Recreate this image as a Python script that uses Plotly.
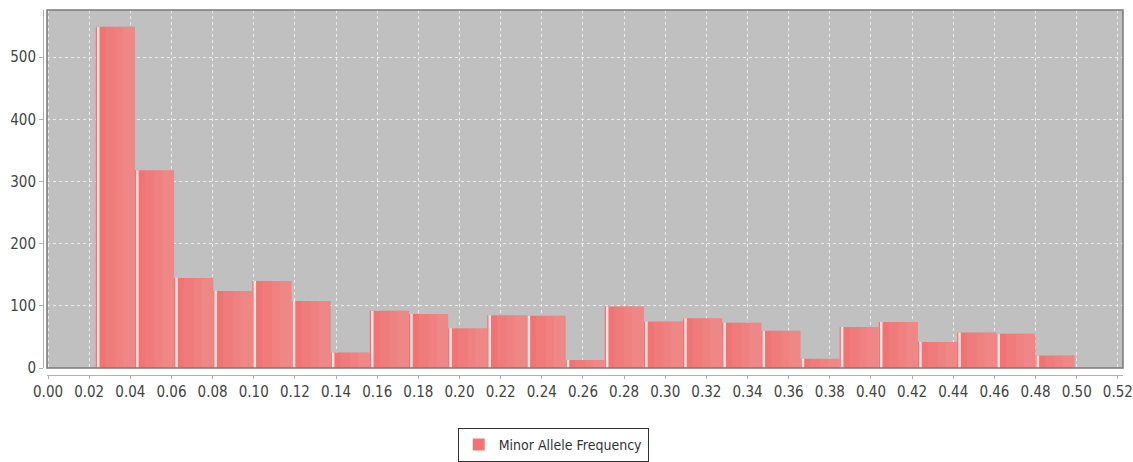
import numpy as np
import plotly.graph_objects as go

# Histogram data: minor allele frequency bins (start, width) and counts
bin_start = 0.0232
bin_width = 0.01903
counts = [549, 318, 145, 124, 140, 108, 25, 92, 87, 64, 85, 84, 13,
          99, 75, 80, 73, 60, 15, 66, 74, 42, 57, 55, 20]
series_name = "Minor Allele Frequency"

x_ticks = [round(0.02 * i, 2) for i in range(27)]
x_tick_labels = [f"{v:.2f}" for v in x_ticks]
y_ticks = [0, 100, 200, 300, 400, 500]

lefts = bin_start + bin_width * np.arange(len(counts))
centers = lefts + bin_width / 2

FONT = "DejaVu Sans Condensed, DejaVu Sans, sans-serif"

fig = go.Figure()
fig.add_trace(go.Bar(
    x=centers, y=counts, width=bin_width,
    marker=dict(color="#F07474", line=dict(width=0)),
    name=series_name, showlegend=True,
))
# soft lighter shading towards the right of each bar (gradient painter look)
for frac in (0.75, 0.5, 0.3):
    fig.add_trace(go.Bar(
        x=lefts + bin_width * (1 - frac / 2), y=counts, width=bin_width * frac,
        marker=dict(color="rgba(255,255,255,0.05)", line=dict(width=0)),
        showlegend=False, hoverinfo="skip",
    ))
# light highlight stripe at the left edge of each bar
fig.add_trace(go.Bar(
    x=lefts + 0.0012, y=counts, width=0.0012,
    marker=dict(color="#FFE2E2", line=dict(width=0)),
    showlegend=False, hoverinfo="skip",
))

fig.update_layout(
    width=1133, height=462,
    margin=dict(l=43, r=10, t=10, b=87, autoexpand=False),
    paper_bgcolor="white",
    plot_bgcolor="#C0C0C0",
    barmode="overlay",
    font=dict(family=FONT, size=15, color="#444444"),
    showlegend=True,
    legend=dict(
        orientation="h", x=0.384, xanchor="left", y=-0.145, yanchor="top",
        bgcolor="white", bordercolor="#333333", borderwidth=1,
        font=dict(family=FONT, size=14, color="#333333"),
        itemsizing="constant",
    ),
    xaxis=dict(
        domain=[4 / 1080, 1], range=[-0.0005, 0.5225],
        tickmode="array", tickvals=x_ticks, ticktext=x_tick_labels,
        showgrid=True, gridcolor="rgba(255,255,255,0.7)", griddash="dot", gridwidth=1,
        zeroline=False, showline=True, linecolor="#B0B0B0", linewidth=1,
        ticks="outside", ticklen=3, tickcolor="#B0B0B0",
        anchor="free", position=0, automargin=False,
    ),
    yaxis=dict(
        domain=[7 / 365, 1], range=[0, 576],
        tickmode="array", tickvals=y_ticks,
        showgrid=True, gridcolor="rgba(255,255,255,0.7)", griddash="dot", gridwidth=1,
        zeroline=False, showline=True, linecolor="#B0B0B0", linewidth=1,
        ticks="outside", ticklen=4, tickcolor="#B0B0B0",
        anchor="free", position=0, automargin=False,
    ),
    shapes=[dict(
        type="rect", xref="x domain", yref="y domain", x0=0, x1=1, y0=0, y1=1,
        line=dict(color="#7A7A7A", width=1.5), layer="above",
    )],
)

fig.write_html(
    "out.html",
    config={"displayModeBar": False},
    post_script="document.body.style.margin='0';document.body.style.overflow='hidden';",
)
